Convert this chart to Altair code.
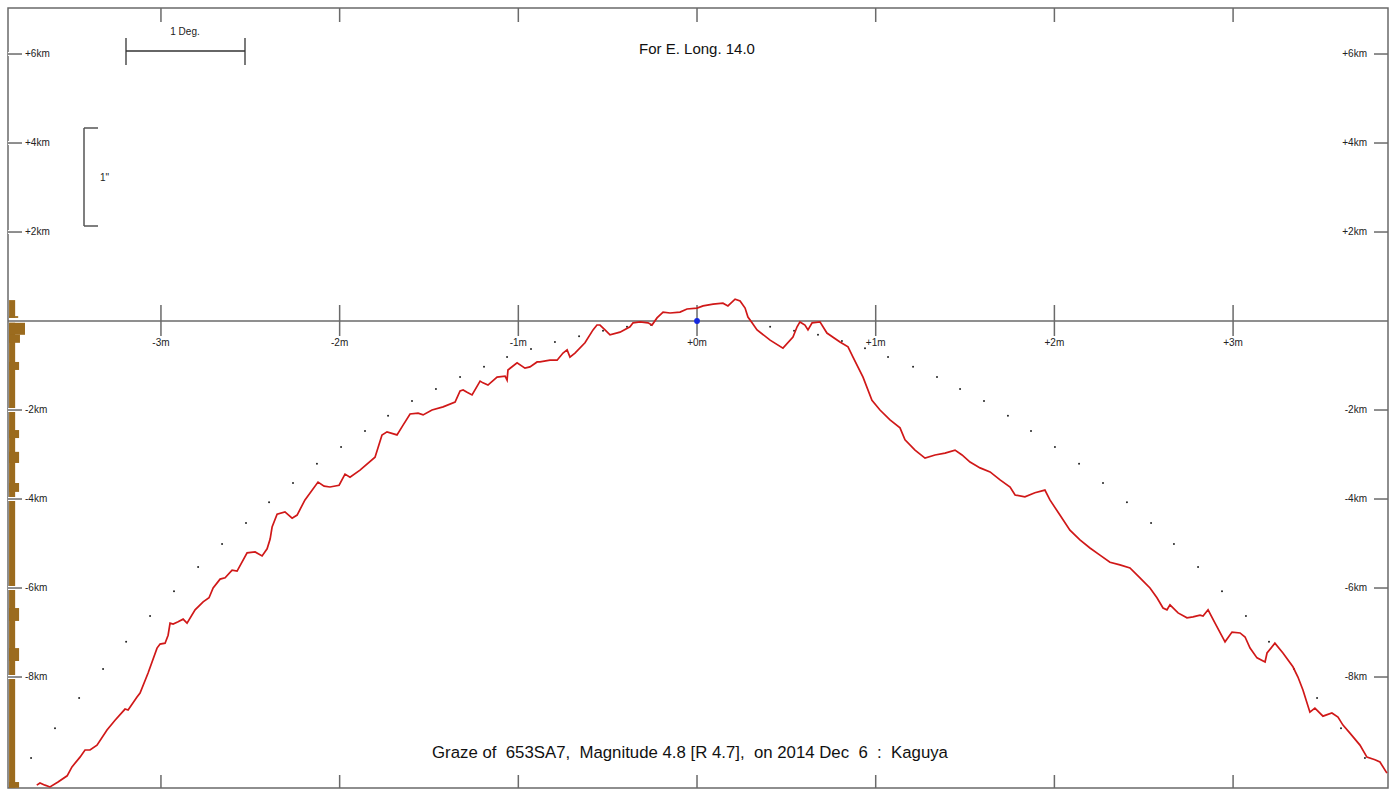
import altair as alt
import pandas as pd

FONT = "Liberation Sans"

# ---- axis domains (minutes, km) ----
X_MIN, X_MAX = -3.856, 3.867
Y_MIN, Y_MAX = -10.494, 7.034

# ---- limb profile (red line): time in minutes, height in km ----
profile_min = [-3.695, -3.677, -3.649, -3.621, -3.576, -3.525, -3.498, -3.453, -3.425, -3.397,
               -3.358, -3.302, -3.257, -3.201, -3.184, -3.134, -3.117, -3.072, -3.022, -3.005,
               -2.977, -2.960, -2.949, -2.932, -2.904, -2.876, -2.854, -2.809, -2.764, -2.731,
               -2.708, -2.669, -2.641, -2.602, -2.574, -2.518, -2.473, -2.434, -2.406, -2.389,
               -2.378, -2.350, -2.306, -2.266, -2.238, -2.194, -2.121, -2.087, -2.054, -2.003,
               -1.970, -1.942, -1.886, -1.802, -1.763, -1.735, -1.679, -1.645, -1.606, -1.561,
               -1.533, -1.483, -1.421, -1.354, -1.326, -1.309, -1.287, -1.259, -1.214, -1.198,
               -1.170, -1.119, -1.074, -1.063, -1.058, -1.007, -0.963, -0.935, -0.895, -0.879,
               -0.823, -0.783, -0.750, -0.727, -0.711, -0.683, -0.627, -0.582, -0.560, -0.543,
               -0.515, -0.487, -0.431, -0.375, -0.358, -0.319, -0.274, -0.252, -0.224, -0.190,
               -0.151, -0.095, -0.056, 0.000, 0.034, 0.090, 0.145, 0.173, 0.213, 0.241,
               0.269, 0.285, 0.308, 0.336, 0.409, 0.481, 0.537, 0.560, 0.576, 0.604,
               0.621, 0.644, 0.688, 0.727, 0.800, 0.845, 0.873, 0.929, 0.979, 1.024,
               1.080, 1.136, 1.164, 1.220, 1.276, 1.332, 1.388, 1.444, 1.483, 1.528,
               1.584, 1.640, 1.696, 1.752, 1.780, 1.835, 1.891, 1.947, 1.975, 2.031,
               2.087, 2.143, 2.199, 2.255, 2.311, 2.367, 2.423, 2.479, 2.535, 2.574,
               2.608, 2.630, 2.647, 2.692, 2.742, 2.776, 2.815, 2.832, 2.860, 2.899,
               2.955, 2.994, 3.039, 3.067, 3.095, 3.134, 3.179, 3.190, 3.234, 3.279,
               3.335, 3.363, 3.391, 3.430, 3.458, 3.503, 3.553, 3.587, 3.615, 3.654,
               3.710, 3.749, 3.794, 3.822, 3.861]
profile_km = [-10.43, -10.38, -10.43, -10.47, -10.36, -10.22, -10.02, -9.80, -9.64, -9.64,
              -9.53, -9.19, -8.97, -8.72, -8.74, -8.45, -8.36, -7.91, -7.35, -7.26,
              -7.24, -7.06, -6.79, -6.81, -6.76, -6.70, -6.79, -6.49, -6.31, -6.22,
              -6.00, -5.80, -5.77, -5.60, -5.62, -5.21, -5.19, -5.28, -5.12, -4.90,
              -4.63, -4.34, -4.29, -4.43, -4.36, -4.02, -3.62, -3.71, -3.73, -3.69,
              -3.44, -3.51, -3.35, -3.06, -2.56, -2.49, -2.56, -2.34, -2.09, -2.07,
              -2.11, -2.00, -1.93, -1.82, -1.57, -1.55, -1.60, -1.66, -1.35, -1.39,
              -1.44, -1.26, -1.24, -1.33, -1.10, -0.94, -1.06, -1.03, -0.92, -0.92,
              -0.88, -0.88, -0.72, -0.65, -0.81, -0.72, -0.49, -0.20, -0.09, -0.09,
              -0.20, -0.31, -0.25, -0.13, -0.04, -0.02, -0.04, -0.09, 0.07, 0.20,
              0.18, 0.20, 0.27, 0.29, 0.34, 0.38, 0.40, 0.34, 0.49, 0.45,
              0.29, 0.09, -0.04, -0.20, -0.43, -0.61, -0.36, -0.13, -0.02, -0.09,
              -0.20, -0.04, -0.02, -0.27, -0.47, -0.58, -0.81, -1.26, -1.78, -2.00,
              -2.22, -2.40, -2.67, -2.90, -3.08, -3.01, -2.97, -2.90, -3.01, -3.17,
              -3.30, -3.39, -3.57, -3.73, -3.91, -3.95, -3.86, -3.80, -4.02, -4.36,
              -4.70, -4.92, -5.10, -5.26, -5.42, -5.48, -5.55, -5.77, -6.00, -6.22,
              -6.45, -6.49, -6.38, -6.56, -6.67, -6.65, -6.61, -6.63, -6.49, -6.79,
              -7.21, -6.99, -7.01, -7.10, -7.35, -7.57, -7.66, -7.46, -7.24, -7.46,
              -7.77, -8.00, -8.29, -8.79, -8.70, -8.88, -8.81, -8.90, -9.08, -9.26,
              -9.53, -9.80, -9.86, -9.91, -10.16]

# ---- dotted limit line (black dots) ----
limit_min = [-3.727, -3.593, -3.458, -3.324, -3.195, -3.061, -2.927, -2.792, -2.658, -2.524,
             -2.395, -2.261, -2.127, -1.992, -1.858, -1.729, -1.595, -1.461, -1.326, -1.192,
             -1.063, -0.929, -0.795, -0.660, -0.526, -0.392, -0.257,
             0.409, 0.543, 0.677, 0.811, 0.940, 1.069, 1.209, 1.343, 1.472, 1.606,
             1.740, 1.869, 2.003, 2.138, 2.272, 2.406, 2.541, 2.669, 2.804, 2.938,
             3.072, 3.201, 3.341, 3.470, 3.604, 3.738]
limit_km = [-9.82, -9.15, -8.47, -7.82, -7.21, -6.63, -6.07, -5.53, -5.01, -4.54,
            -4.07, -3.64, -3.21, -2.83, -2.47, -2.13, -1.80, -1.53, -1.26, -1.03,
            -0.81, -0.63, -0.47, -0.34, -0.22, -0.13, -0.09,
            -0.13, -0.22, -0.31, -0.45, -0.61, -0.81, -1.03, -1.26, -1.53, -1.80,
            -2.13, -2.47, -2.83, -3.21, -3.64, -4.07, -4.54, -5.01, -5.53, -6.07,
            -6.63, -7.21, -7.82, -8.47, -9.15, -9.82]

# ---- tick values / labels ----
minute_ticks = [-3, -2, -1, 0, 1, 2, 3]
minute_labels = ["-3m", "-2m", "-1m", "+0m", "+1m", "+2m", "+3m"]
km_ticks = [6, 4, 2, -2, -4, -6, -8]
km_labels = ["+6km", "+4km", "+2km", "-2km", "-4km", "-6km", "-8km"]

# ---- brown histogram bars on the left edge (km top, km bottom, right end in minutes) ----
bar_top = [0.47, 0.11, -0.04, -0.04, -0.31, -0.92, -2.45, -2.94, -3.64, -6.45, -7.35, -10.36]
bar_bottom = [0.07, 0.07, -10.49, -0.31, -0.49, -1.10, -2.63, -3.19, -3.84, -6.74, -7.64, -10.49]
bar_right = [-3.816, -3.799, -3.816, -3.761, -3.789, -3.794, -3.794, -3.794, -3.794, -3.794, -3.794, -3.794]
BAR_LEFT = -3.850

TITLE_TOP = "For E. Long. 14.0"
TITLE_BOTTOM = "Graze of\u00a0 653SA7,\u00a0 Magnitude 4.8 [R 4.7],\u00a0 on 2014 Dec\u00a0 6\u00a0 :\u00a0 Kaguya"

GRAY = "#6a6a6a"
BROWN = "#9b6b1e"
RED = "#d01818"

xs = alt.Scale(domain=[X_MIN, X_MAX], nice=False, zero=False)
ys = alt.Scale(domain=[Y_MIN, Y_MAX], nice=False, zero=False)

prof = pd.DataFrame({"t": profile_min, "h": profile_km, "i": range(len(profile_min))})
lim = pd.DataFrame({"t": limit_min, "h": limit_km})
mt = pd.DataFrame({"t": minute_ticks, "label": minute_labels})
kt = pd.DataFrame({"h": km_ticks, "label": km_labels})
bars = pd.DataFrame({"top": bar_top, "bottom": bar_bottom, "right": bar_right, "left": [BAR_LEFT] * len(bar_top)})
one = pd.DataFrame({"a": [0]})
zero = pd.DataFrame({"t": [0.0], "h": [0.0]})

X = lambda f: alt.X(f, scale=xs, axis=None)
Y = lambda f: alt.Y(f, scale=ys, axis=None)

bar_layer = alt.Chart(bars).mark_rect(color=BROWN).encode(
    x=X("left:Q"), x2="right:Q", y=Y("top:Q"), y2="bottom:Q")

zero_line = alt.Chart(zero).mark_rule(color=GRAY, strokeWidth=1.5).encode(y=Y("h:Q"))

halo_left = alt.Chart(kt).mark_rule(color="white", strokeWidth=4).encode(
    y=Y("h:Q"), x=alt.value(0), x2=alt.value(14))
km_tick_left = alt.Chart(kt).mark_rule(color=GRAY, strokeWidth=1.5).encode(
    y=Y("h:Q"), x=alt.value(0), x2=alt.value(14))
km_tick_right = alt.Chart(kt).mark_rule(color=GRAY, strokeWidth=1.5).encode(
    y=Y("h:Q"), x=alt.value(1366), x2=alt.value(1380))
km_lab_left = alt.Chart(kt).mark_text(align="left", baseline="middle", fontSize=10, font=FONT, color="#222").encode(
    y=Y("h:Q"), x=alt.value(17), text="label:N")
km_lab_right = alt.Chart(kt).mark_text(align="right", baseline="middle", fontSize=10, font=FONT, color="#222").encode(
    y=Y("h:Q"), x=alt.value(1359), text="label:N")

m_tick_mid = alt.Chart(mt).mark_rule(color=GRAY, strokeWidth=1.5).encode(
    x=X("t:Q"), y=alt.value(297), y2=alt.value(328))
m_tick_top = alt.Chart(mt).mark_rule(color=GRAY, strokeWidth=1.5).encode(
    x=X("t:Q"), y=alt.value(0), y2=alt.value(14))
m_tick_bot = alt.Chart(mt).mark_rule(color=GRAY, strokeWidth=1.5).encode(
    x=X("t:Q"), y=alt.value(767), y2=alt.value(780))
m_lab = alt.Chart(mt).mark_text(align="center", baseline="middle", fontSize=10, font=FONT, color="#222").encode(
    x=X("t:Q"), y=alt.value(335), text="label:N")

limit_layer = alt.Chart(lim).mark_circle(color="#222", size=4, opacity=1).encode(x=X("t:Q"), y=Y("h:Q"))

profile_layer = alt.Chart(prof).mark_line(color=RED, strokeWidth=1.7, clip=True).encode(
    x=X("t:Q"), y=Y("h:Q"), order="i:Q")

blue = alt.Chart(zero).mark_circle(color="#1428e0", size=34, opacity=1).encode(x=X("t:Q"), y=Y("h:Q"))

# scale bar "1 Deg." and bracket '1"'
deg_h = alt.Chart(one).mark_rule(color="#333", strokeWidth=1.3).encode(
    x=alt.value(118), x2=alt.value(237), y=alt.value(43))
deg_l = alt.Chart(one).mark_rule(color="#333", strokeWidth=1.3).encode(
    x=alt.value(118), y=alt.value(30), y2=alt.value(57))
deg_r = alt.Chart(one).mark_rule(color="#333", strokeWidth=1.3).encode(
    x=alt.value(237), y=alt.value(30), y2=alt.value(57))
deg_t = alt.Chart(one).mark_text(align="center", baseline="middle", fontSize=10, font=FONT, color="#222").encode(
    x=alt.value(177), y=alt.value(24), text=alt.value("1 Deg."))
br_v = alt.Chart(one).mark_rule(color="#555", strokeWidth=1.5).encode(
    x=alt.value(76), y=alt.value(120), y2=alt.value(218))
br_t = alt.Chart(one).mark_rule(color="#555", strokeWidth=1.5).encode(
    x=alt.value(76), x2=alt.value(90), y=alt.value(120))
br_b = alt.Chart(one).mark_rule(color="#555", strokeWidth=1.5).encode(
    x=alt.value(76), x2=alt.value(90), y=alt.value(218))
br_txt = alt.Chart(one).mark_text(align="left", baseline="middle", fontSize=10, font=FONT, color="#222").encode(
    x=alt.value(92), y=alt.value(170), text=alt.value('1"'))

title_top = alt.Chart(one).mark_text(align="center", baseline="middle", fontSize=15, font=FONT, color="#111").encode(
    x=alt.value(689), y=alt.value(41), text=alt.value(TITLE_TOP))
title_bot = alt.Chart(one).mark_text(align="center", baseline="middle", fontSize=16.8, font=FONT, color="#111").encode(
    x=alt.value(682), y=alt.value(745), text=alt.value(TITLE_BOTTOM))

chart = alt.layer(
    bar_layer, zero_line, halo_left, km_tick_left, km_tick_right, km_lab_left, km_lab_right,
    m_tick_mid, m_tick_top, m_tick_bot, m_lab,
    limit_layer, profile_layer, blue,
    deg_h, deg_l, deg_r, deg_t, br_v, br_t, br_b, br_txt,
    title_top, title_bot,
).properties(
    width=1380, height=780,
    padding={"left": 8, "top": 8, "right": 8, "bottom": 1},
    autosize=alt.AutoSizeParams(type="none"),
    background="white",
).configure_view(stroke=GRAY, strokeWidth=1.5)

chart.save("out.html", embed_options={"renderer": "svg", "actions": False})
